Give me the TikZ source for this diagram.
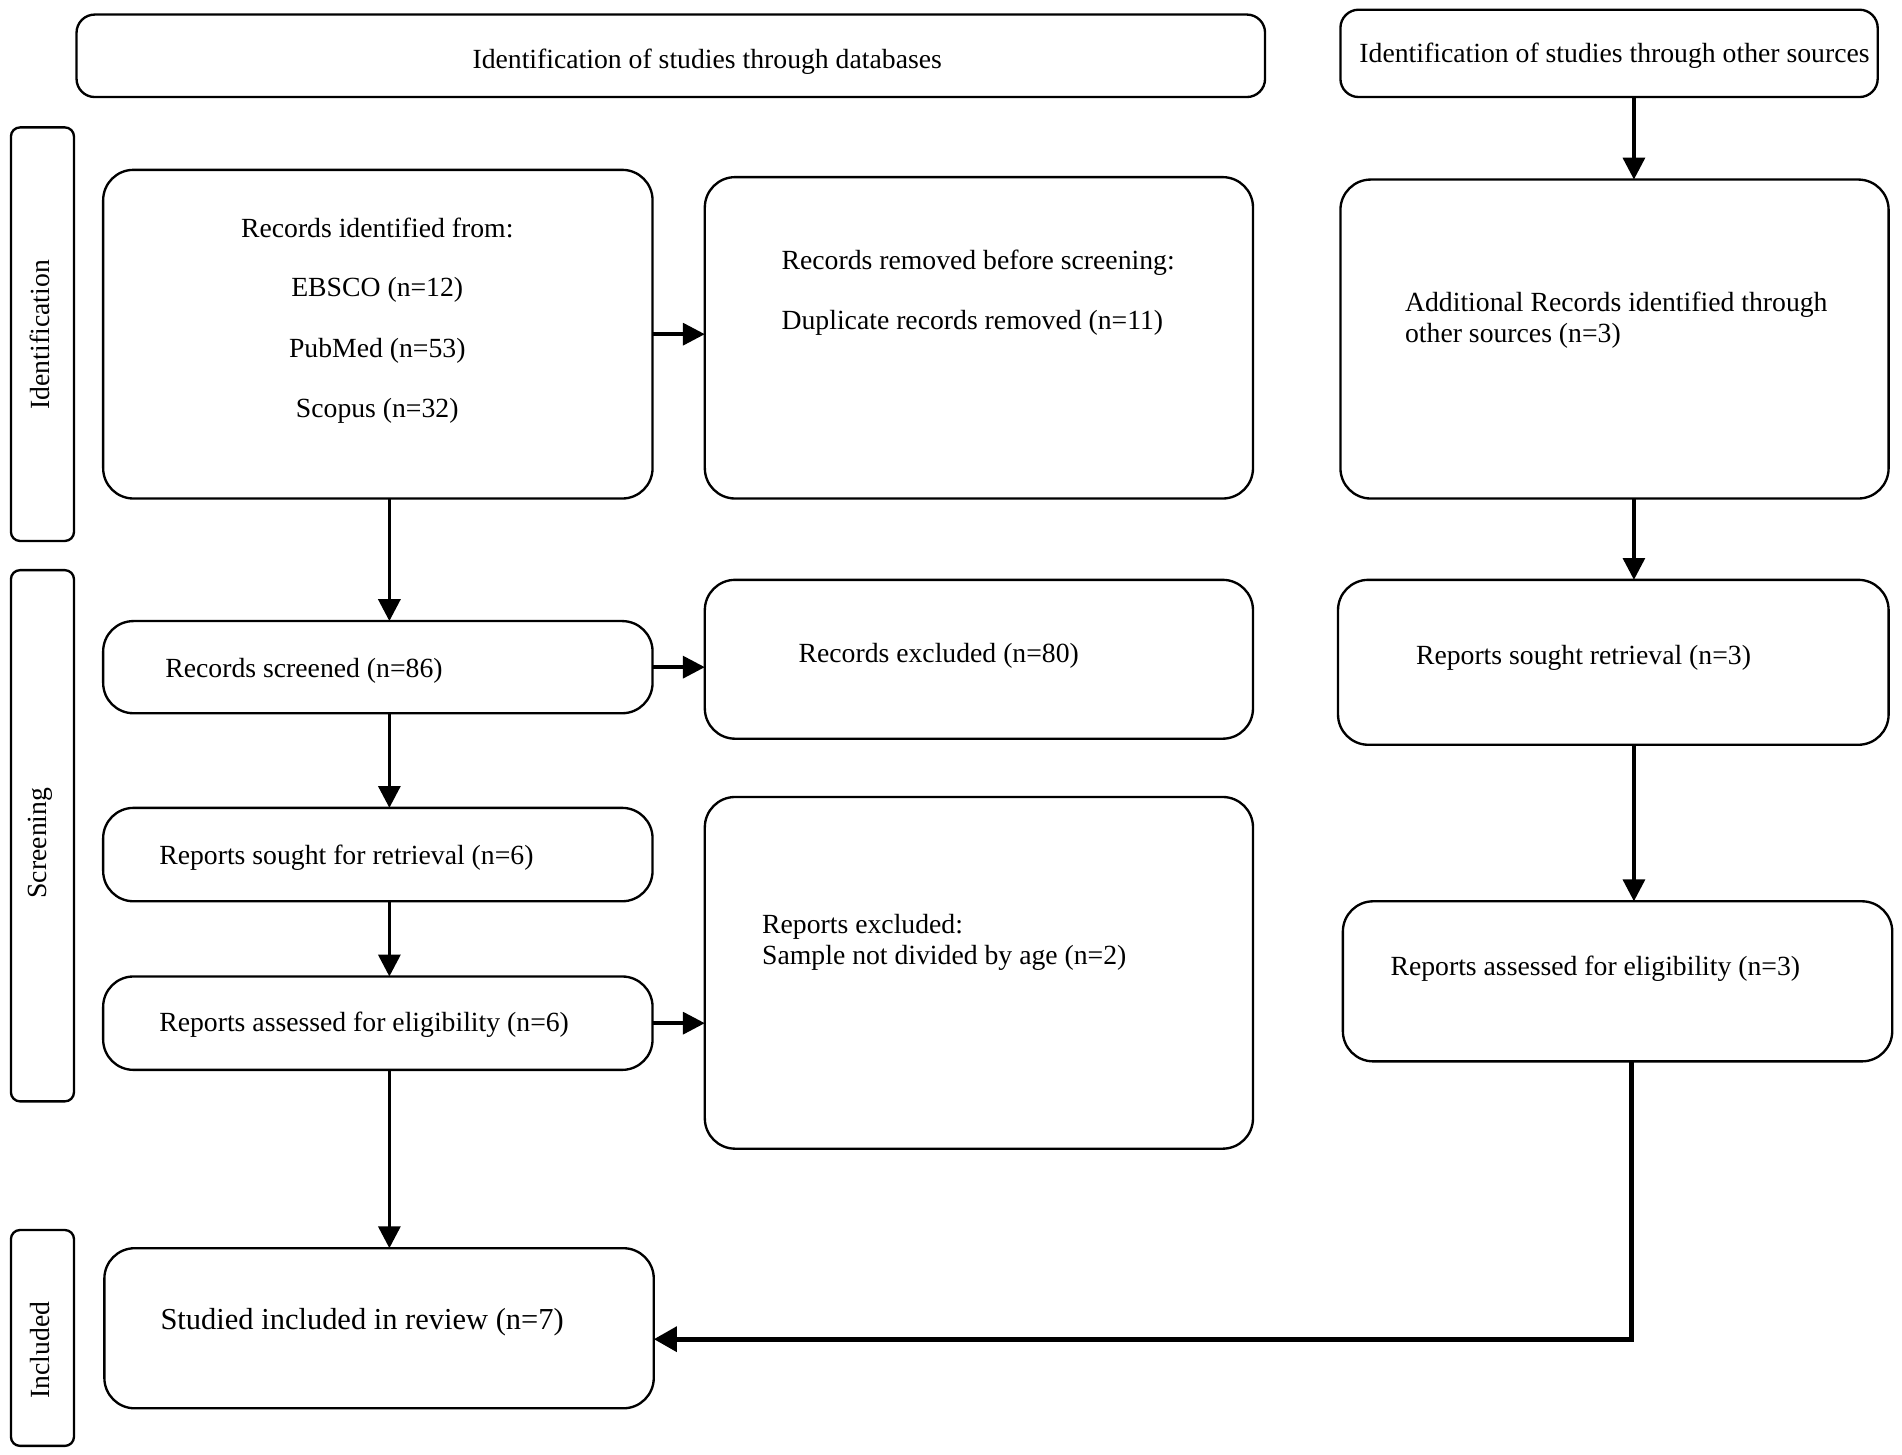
\documentclass[tikz,border=0pt]{standalone}
\usepackage{fontspec}
\setmainfont{Liberation Serif}
\usetikzlibrary{arrows.meta}
\begin{document}
\begin{tikzpicture}[x=0.02cm,y=-0.02cm,
  box/.style={draw, line width=1.1pt, rounded corners=0.5cm, inner sep=0pt, outer sep=0pt},
  hbox/.style={box, rounded corners=0.3cm},
  sbox/.style={box, rounded corners=0.15cm},
  stxt/.style={font=\fontsize{13}{14.5}\selectfont, inner sep=0pt, align=left},
  txt/.style={stxt, yshift=-0.04cm},
  arr/.style={line width=1.7pt, -{Triangle[length=0.36cm,width=0.36cm]}},
  arrb/.style={line width=2.5pt, -{Triangle[length=0.38cm,width=0.40cm]}}]
\useasboundingbox (0,0) rectangle (1568,1199);

% headers
\node[hbox, minimum width=19.6cm, minimum height=1.36cm] (H1) at (553,46) {};
\node[txt] (H1t) at (583,49) {Identification of studies through databases};
\node[hbox, minimum width=8.86cm, minimum height=1.44cm] (H2) at (1326.5,44) {};
\node[txt] (H2t) at (1331,44) {Identification of studies through other sources};

% side bars
\node[sbox, minimum width=1.04cm, minimum height=6.82cm] (S1) at (35,275.5) {};
\node[stxt, rotate=90] (S1t) at (33,276) {Identification};
\node[sbox, minimum width=1.04cm, minimum height=8.76cm] (S2) at (35,689) {};
\node[stxt, rotate=90] (S2t) at (33,695) {Screening};
\node[sbox, minimum width=1.04cm, minimum height=3.56cm] (S3) at (35,1103) {};
\node[stxt, rotate=90] (S3t) at (33,1113) {Included};

% left column
\node[box, minimum width=9.06cm, minimum height=5.42cm] (B1) at (311.5,275.5) {};
\node[txt] (B1a) at (311,186) {Records identified from:};
\node[txt] (B1b) at (311,237) {EBSCO (n=12)};
\node[txt] (B1c) at (311,287) {PubMed (n=53)};
\node[txt] (B1d) at (311,337) {Scopus (n=32)};

\node[box, minimum width=9.04cm, minimum height=5.3cm] (B2) at (807,278.5) {};
\node[txt, anchor=west] (B2a) at (644,215) {Records removed before screening:};
\node[txt, anchor=west] (B2b) at (644,264) {Duplicate records removed (n=11)};

\node[box, minimum width=9.06cm, minimum height=1.52cm] (B3) at (311.5,550) {};
\node[txt, anchor=west] (B3t) at (136,551) {Records screened (n=86)};

\node[box, minimum width=9.04cm, minimum height=2.62cm] (B4) at (807,543.5) {};
\node[txt, anchor=west] (B4t) at (658,539) {Records excluded (n=80)};

\node[box, minimum width=9.06cm, minimum height=1.54cm] (B5) at (311.5,704.5) {};
\node[txt, anchor=west] (B5t) at (131,705) {Reports sought for retrieval (n=6)};

\node[box, minimum width=9.06cm, minimum height=1.54cm] (B6) at (311.5,843.5) {};
\node[txt, anchor=west] (B6t) at (131,843) {Reports assessed for eligibility (n=6)};

\node[box, minimum width=9.04cm, minimum height=5.8cm] (B7) at (807,802) {};
\node[txt, anchor=west] (B7t) at (628,775) {Reports excluded:\\Sample not divided by age (n=2)};

\node[box, minimum width=9.06cm, minimum height=2.64cm] (B8) at (312.5,1095) {};
\node[txt, anchor=west, font=\fontsize{14.3}{16}\selectfont] (B8t) at (132,1088) {Studied included in review (n=7)};

% right column
\node[box, minimum width=9.04cm, minimum height=5.26cm] (R1) at (1331,279.5) {};
\node[txt, anchor=west] (R1t) at (1158,262) {Additional Records identified through\\other sources (n=3)};

\node[box, minimum width=9.08cm, minimum height=2.72cm] (R2) at (1330,546) {};
\node[txt, anchor=west] (R2t) at (1167,540) {Reports sought retrieval (n=3)};

\node[box, minimum width=9.06cm, minimum height=2.64cm] (R3) at (1333.5,809) {};
\node[txt, anchor=west] (R3t) at (1146,797) {Reports assessed for eligibility (n=3)};

% connectors
\coordinate (XL) at (321,0);
\coordinate (XR) at (1347,0);
\coordinate (E) at (1345,1104);

\draw[arr] (B1.east) -- (B2.west |- B1.east);
\draw[arr] (B3.east) -- (B4.west |- B3.east);
\draw[arr] (B6.east) -- (B7.west |- B6.east);

\draw[arr] (B1.south -| XL) -- (B3.north -| XL);
\draw[arr] (B3.south -| XL) -- (B5.north -| XL);
\draw[arr] (B5.south -| XL) -- (B6.north -| XL);
\draw[arr] (B6.south -| XL) -- (B8.north -| XL);

\draw[arr] (H2.south -| XR) -- (R1.north -| XR);
\draw[arr] (R1.south -| XR) -- (R2.north -| XR);
\draw[arr] (R2.south -| XR) -- (R3.north -| XR);

\draw[arrb] (R3.south -| E) -- (E) -- (B8.east |- E);
\end{tikzpicture}
\end{document}
